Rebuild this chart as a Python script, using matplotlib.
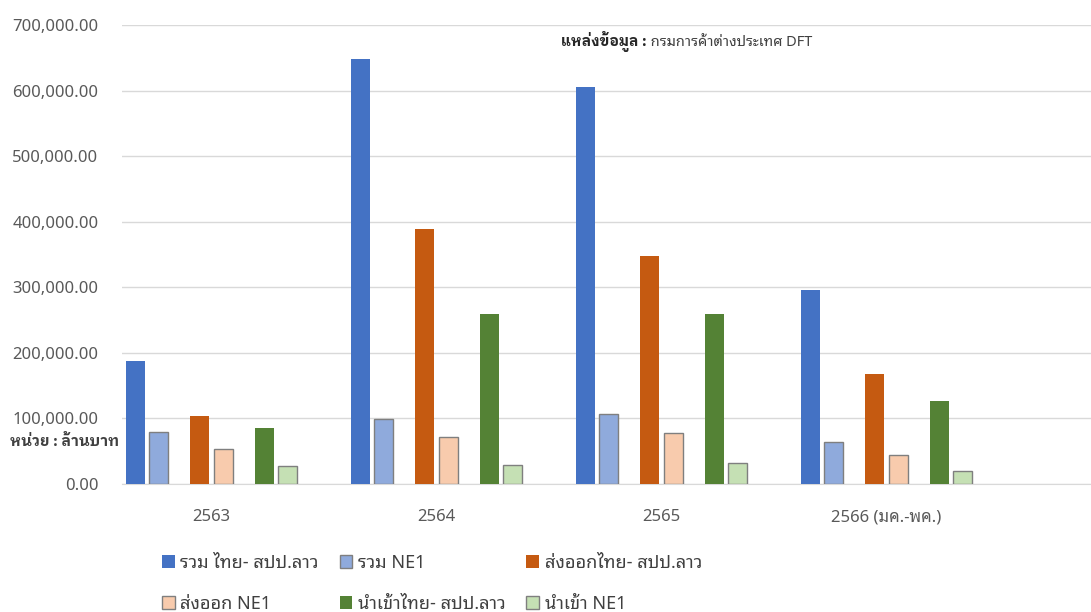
import matplotlib
matplotlib.use("Agg")
import numpy as np
import matplotlib.pyplot as plt

plt.rcParams['font.family'] = ['Noto Sans', 'Noto Sans Thai Looped']
BOLD_FAMILY = ['IBM Plex Sans Thai Looped', 'DejaVu Sans']

years = ['2563', '2564', '2565', '2566 (มค.-พค.)']
series_names = ['รวม ไทย- สปป.ลาว', 'รวม NE1', 'ส่งออกไทย- สปป.ลาว',
                'ส่งออก NE1', 'นำเข้าไทย- สปป.ลาว', 'นำเข้า NE1']
# ล้านบาท
total_thai_lao = [187600, 648000, 605000, 296000]
total_ne1 = [79500, 99000, 106500, 64500]
export_thai_lao = [103000, 389000, 347500, 168000]
export_ne1 = [53000, 71500, 77500, 44700]
import_thai_lao = [85500, 259000, 259000, 127000]
import_ne1 = [27400, 29000, 32000, 20300]

values = [total_thai_lao, total_ne1, export_thai_lao,
          export_ne1, import_thai_lao, import_ne1]
colors = ['#4472C4', '#8FAADC', '#C55A11', '#F8CBAD', '#548235', '#C5E0B4']
edges = [None, '#7F7F7F', None, '#7F7F7F', None, '#7F7F7F']
offsets = [-0.339, -0.234, -0.052, 0.052, 0.234, 0.339]
bar_w = 0.084

fig = plt.figure(figsize=(10.91, 6.12), dpi=100)
ax = fig.add_axes([122 / 1091, 1 - 484 / 612, 1 - 122 / 1091, (484 - 25) / 612])

x = np.arange(len(years))
handles = []
for vals, c, e, off, name in zip(values, colors, edges, offsets, series_names):
    if e is None:
        b = ax.bar(x + off, vals, bar_w, color=c, label=name, zorder=3)
    else:
        b = ax.bar(x + off, vals, bar_w, color=c, edgecolor=e, linewidth=1,
                   label=name, zorder=3)
    handles.append(b)

ax.set_xlim(-0.398, 3.909)
ax.set_ylim(0, 700000)
ax.set_yticks(np.arange(0, 700001, 100000))
ax.set_yticklabels([f'{v:,.2f}' for v in np.arange(0, 700001, 100000)])
ax.set_xticks(x)
ax.set_xticklabels(years)
ax.tick_params(axis='y', length=0, pad=17, labelsize=12, labelcolor='#595959')
ax.tick_params(axis='x', length=0, pad=18, labelsize=12, labelcolor='#595959')
ax.grid(axis='y', color='#D9D9D9', linewidth=1, zorder=0)
for s in ['top', 'right', 'left']:
    ax.spines[s].set_visible(False)
ax.spines['bottom'].set_color('#D9D9D9')

# row-wise order for the 3-column legend
order = [0, 3, 1, 4, 2, 5]
leg = fig.legend([handles[i] for i in order], [series_names[i] for i in order],
                 ncol=3, loc='upper left', bbox_to_anchor=(162 / 1091, 1 - 554 / 612),
                 frameon=False, fontsize=13, handlelength=0.7, handleheight=0.7,
                 handletextpad=0.32, columnspacing=1.15, labelspacing=1.25,
                 borderpad=0, borderaxespad=0, labelcolor='#404040')

fig.text(10 / 1091, 1 - 441 / 612, 'หน่วย : ล้านบาท', fontsize=10.8, fontweight='bold',
         family=BOLD_FAMILY, color='#404040', va='center', ha='left')

t1 = fig.text(561 / 1091, 1 - 42 / 612, 'แหล่งข้อมูล :', fontsize=10.5,
              fontweight='bold', family=BOLD_FAMILY, color='#262626',
              va='center', ha='left')
ax.annotate(' กรมการค้าต่างประเทศ DFT', xy=(1, 0.5), xycoords=t1, va='center',
            ha='left', fontsize=10.5, color='#404040')

fig.savefig('out.png', dpi=100)
